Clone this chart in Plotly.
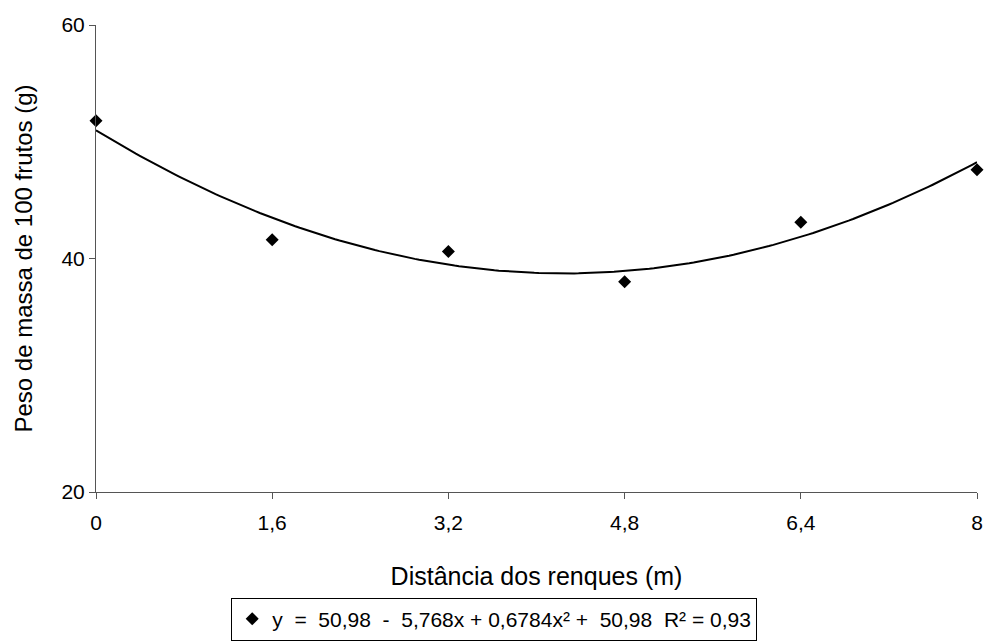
import numpy as np
import plotly.graph_objects as go

# Data
distancia = [0, 1.6, 3.2, 4.8, 6.4, 8]
peso = [51.8, 41.6, 40.6, 38.0, 43.1, 47.6]
tick_vals = [0, 1.6, 3.2, 4.8, 6.4, 8]
tick_text = ["0", "1,6", "3,2", "4,8", "6,4", "8"]
y_ticks = [20, 40, 60]
# quadratic trend coefficients (c0, c1, c2) as printed in legend
coef = [50.98, -5.768, 0.6784]

xs = np.linspace(0, 8, 200)
ys = coef[0] + coef[1] * xs + coef[2] * xs ** 2

NB = "\u00a0"
legend_name = f"y{NB}{NB}={NB}{NB}50,98{NB}{NB}-{NB}{NB}5,768x + 0,6784x² +{NB}{NB}50,98{NB}{NB}R² = 0,93"

fig = go.Figure()
fig.add_trace(go.Scatter(x=xs, y=ys, mode="lines", line=dict(color="black", width=2),
                         showlegend=False, hoverinfo="skip", cliponaxis=False))
fig.add_trace(go.Scatter(x=distancia, y=peso, mode="markers", name=legend_name,
                         marker=dict(symbol="diamond", size=10, color="black"),
                         cliponaxis=False))

font = "Liberation Sans, Arial, sans-serif"
fig.update_layout(
    width=986, height=644,
    margin=dict(l=96, r=9, t=25, b=152),
    paper_bgcolor="white", plot_bgcolor="white",
    font=dict(family=font, color="black", size=21),
    showlegend=True,
    legend=dict(orientation="h", x=0.452, xanchor="center",
                yref="container", y=0.072, yanchor="top",
                bordercolor="black", borderwidth=1, font=dict(size=21),
                itemwidth=30, tracegroupgap=0),
    xaxis=dict(range=[0, 8], tickvals=tick_vals, ticktext=tick_text, automargin=False,
               showgrid=False, zeroline=False, showline=True, linecolor="#555555",
               linewidth=1, ticks="outside", ticklen=6, tickcolor="#555555",
               tickfont=dict(size=21), ticklabelstandoff=6,
               title=dict(text="Distância dos renques (m)", font=dict(size=25), standoff=34)),
    yaxis=dict(range=[20, 60], tickvals=y_ticks, showgrid=False, zeroline=False,
               automargin=False,
               showline=True, linecolor="#555555", linewidth=1, ticks="outside",
               ticklen=6, tickcolor="#555555", tickfont=dict(size=21),
               title=dict(text="Peso de massa de 100 frutos (g)", font=dict(size=24), standoff=22)),
)

fig.write_html("out.html", config={"displayModeBar": False},
               post_script="document.body.style.margin='0';document.body.style.overflow='hidden';")
